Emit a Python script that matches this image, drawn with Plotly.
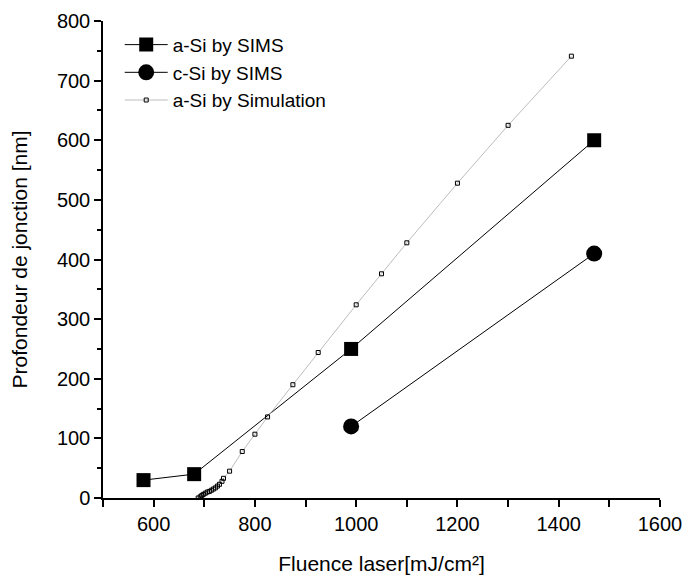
import plotly.graph_objects as go

# a-Si by SIMS
asi_sims_x = [580, 680, 990, 1470]
asi_sims_y = [30, 40, 250, 600]

# c-Si by SIMS
csi_sims_x = [990, 1470]
csi_sims_y = [120, 410]

# a-Si by Simulation
asi_sim_x = [688, 692, 695, 698, 702, 706, 710, 714, 718, 722, 726, 730, 735, 738,
             750, 775, 800, 825, 875, 925, 1000, 1050, 1100, 1200, 1300, 1425]
asi_sim_y = [0, 2, 4, 6, 8, 10, 11, 13, 15, 17, 20, 23, 28, 33,
             45, 78, 107, 136, 190, 244, 324, 376, 428, 528, 625, 741]

x_tickvals = [500, 600, 700, 800, 900, 1000, 1100, 1200, 1300, 1400, 1500, 1600]
x_ticktext = ["", "600", "", "800", "", "1000", "", "1200", "", "1400", "", "1600"]
y_tickvals = [0, 100, 200, 300, 400, 500, 600, 700, 800]

font_family = "Liberation Sans, Arial, sans-serif"

fig = go.Figure()
fig.add_trace(go.Scatter(
    x=asi_sims_x, y=asi_sims_y, name="a-Si by SIMS", mode="lines+markers",
    line=dict(color="black", width=1),
    marker=dict(symbol="square", size=14, color="black"),
))
fig.add_trace(go.Scatter(
    x=csi_sims_x, y=csi_sims_y, name="c-Si by SIMS", mode="lines+markers",
    line=dict(color="black", width=1),
    marker=dict(symbol="circle", size=16, color="black"),
))
fig.add_trace(go.Scatter(
    x=asi_sim_x, y=asi_sim_y, name="a-Si by Simulation", mode="lines+markers",
    line=dict(color="#bdbdbd", width=1),
    marker=dict(symbol="square-open", size=4, color="black", line=dict(width=1)),
))

fig.update_layout(
    width=688, height=579,
    margin=dict(l=103, r=28, t=21, b=81),
    paper_bgcolor="white", plot_bgcolor="white",
    font=dict(family=font_family, size=20, color="black"),
    showlegend=True,
    legend=dict(x=0.03, y=0.99, xanchor="left", yanchor="top",
                bgcolor="rgba(0,0,0,0)", font=dict(size=19),
                itemwidth=43, tracegroupgap=0),
    xaxis=dict(
        range=[500, 1600], showgrid=False, zeroline=False, automargin=False,
        showline=True, linecolor="black", linewidth=1.5,
        ticks="outside", ticklen=7, tickwidth=1.5, tickcolor="black",
        tickvals=x_tickvals, ticktext=x_ticktext,
        tickfont=dict(size=20),
        title=dict(text="Fluence laser[mJ/cm²]", font=dict(size=21), standoff=23),
    ),
    yaxis=dict(
        range=[0, 800], showgrid=False, zeroline=False, automargin=False,
        showline=True, linecolor="black", linewidth=1.5,
        ticks="outside", ticklen=7, tickwidth=1.5, tickcolor="black",
        tickvals=y_tickvals,
        minor=dict(dtick=50, ticks="outside", ticklen=4, tickwidth=1.5, tickcolor="black"),
        tickfont=dict(size=20),
        title=dict(text="Profondeur de jonction [nm]", font=dict(size=21), standoff=24),
    ),
)

fig.write_html("out.html")
